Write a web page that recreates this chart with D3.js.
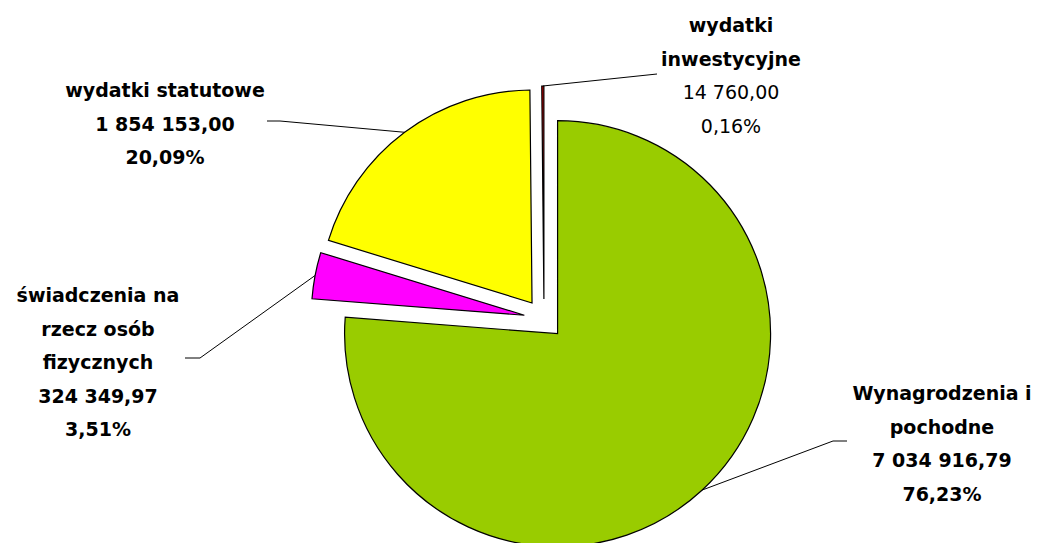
<!DOCTYPE html>
<html>
<head>
<meta charset="utf-8">
<script src="https://cdn.jsdelivr.net/npm/d3@7"></script>
<style>
  body { margin: 0; background: #fff; }
</style>
</head>
<body>
<div id="chart"></div>
<script>
// Chart data
const categories = ["Wynagrodzenia i pochodne", "świadczenia na rzecz osób fizycznych", "wydatki statutowe", "wydatki inwestycyjne"];
const nameLines = [["Wynagrodzenia i", "pochodne"], ["świadczenia na", "rzecz osób", "fizycznych"], ["wydatki statutowe"], ["wydatki", "inwestycyjne"]];
const values = [7034916.79, 324349.97, 1854153.00, 14760.00];
const colors = ["#99cc00", "#ff00ff", "#ffff00", "#cc0000"];

// Where each label block sits, plus the bend of its leader line
const labelLayout = [
    {x: 942, y: 400, elbow: [833, 441], end: [847, 441], boldNumbers: true},
    {x: 98, y: 302, elbow: [200, 358], end: [185, 358], boldNumbers: true},
    {x: 165, y: 97, elbow: [280, 121], end: [267, 121], boldNumbers: true},
    {x: 731, y: 32, elbow: [657, 74], end: [657, 74], boldNumbers: false}
];

const width = 1042, height = 543;
const cx = 544, cy = 319, radius = 213, explode = 20;
const lineStep = 33.5;

const total = d3.sum(values);
const plLocale = d3.formatLocale({decimal: ",", thousands: " ", grouping: [3], currency: ["", ""]});
const fmtValue = plLocale.format(",.2f");
const fmtPct = v => (v / total * 100).toFixed(2).replace(".", ",") + "%";

const svg = d3.select("#chart")
    .append("svg")
    .attr("width", width)
    .attr("height", height)
    .style("background", "#fff");

// Pie layout, clockwise from 12 o'clock, keep data order
const pie = d3.pie().sort(null).value(d => d)(values);
const arc = d3.arc().innerRadius(0).outerRadius(radius);

const midAngle = d => (d.startAngle + d.endAngle) / 2;
const offset = d => [Math.sin(midAngle(d)) * explode, -Math.cos(midAngle(d)) * explode];

// Draw slices (each pushed out from the centre)
svg.selectAll("path.slice")
    .data(pie)
    .enter().append("path")
    .attr("class", "slice")
    .attr("transform", d => `translate(${cx + offset(d)[0]},${cy + offset(d)[1]})`)
    .attr("d", arc)
    .attr("fill", (d, i) => colors[i])
    .attr("stroke", "#000")
    .attr("stroke-width", 1.2)
    .attr("stroke-linejoin", "miter");

// Leader lines: from the outer middle of the slice to the label
svg.selectAll("polyline.leader")
    .data(pie)
    .enter().append("polyline")
    .attr("class", "leader")
    .attr("fill", "none")
    .attr("stroke", "#000")
    .attr("stroke-width", 1)
    .attr("points", (d, i) => {
        const a = midAngle(d);
        const o = offset(d);
        const sx = cx + o[0] + Math.sin(a) * radius;
        const sy = cy + o[1] - Math.cos(a) * radius;
        const L = labelLayout[i];
        return [[sx, sy], L.elbow, L.end].map(p => p.join(",")).join(" ");
    });

// Labels
pie.forEach((d, i) => {
    const L = labelLayout[i];
    const lines = nameLines[i].map(t => ({t, bold: true}))
        .concat([{t: fmtValue(values[i]), bold: L.boldNumbers}, {t: fmtPct(values[i]), bold: L.boldNumbers}]);
    const text = svg.append("text")
        .attr("text-anchor", "middle")
        .style("font-family", "'DejaVu Sans', sans-serif")
        .style("font-size", "19px")
        .attr("fill", "#000");
    lines.forEach((ln, j) => {
        text.append("tspan")
            .attr("x", L.x)
            .attr("y", L.y + j * lineStep)
            .style("font-weight", ln.bold ? "bold" : "normal")
            .text(ln.t);
    });
});
</script>
</body>
</html>
